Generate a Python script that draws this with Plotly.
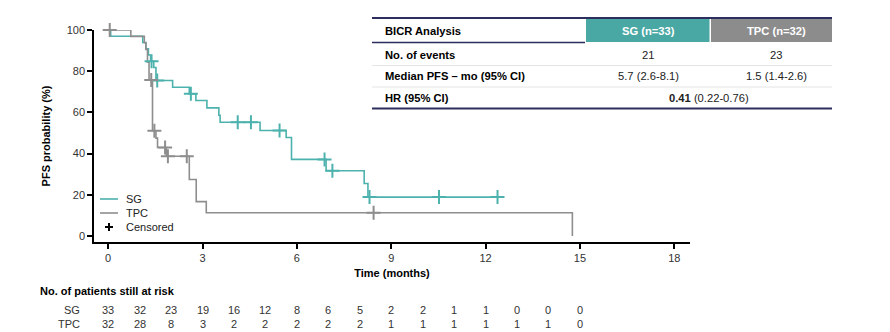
import plotly.graph_objects as go

# ---------------- data ----------------
sg_t = [0, 0.08, 1.10, 1.20, 1.28, 1.35, 1.45, 1.52, 2.05, 2.58, 2.79, 3.14, 3.52, 3.56, 4.83, 5.66, 5.83, 6.93, 8.14, 8.26, 12.38]
sg_s = [100, 97.0, 93.9, 90.9, 87.9, 84.8, 81.8, 75.5, 72.2, 69.0, 65.8, 62.2, 58.6, 55.2, 51.2, 47.8, 37.2, 31.7, 25.5, 18.9, 18.9]
sg_cens_t = [1.38, 1.56, 2.63, 4.12, 4.54, 5.45, 6.88, 7.13, 8.31, 10.52, 12.38]
sg_cens_s = [84.8, 75.5, 69.0, 55.2, 55.2, 51.2, 37.2, 31.7, 18.9, 18.9, 18.9]

tpc_t = [0, 0.72, 1.15, 1.20, 1.25, 1.30, 1.41, 1.52, 1.57, 1.85, 2.58, 2.80, 3.12, 14.76]
tpc_s = [100, 96.9, 93.8, 90.6, 84.4, 75.7, 51.1, 47.5, 43.0, 38.7, 27.4, 16.7, 11.3, 0]
tpc_cens_t = [0.05, 1.37, 1.47, 1.81, 1.90, 2.50, 8.44]
tpc_cens_s = [100, 75.7, 51.1, 43.0, 38.7, 38.7, 11.3]

risk_times = list(range(16))
sg_risk = [33, 32, 23, 19, 16, 12, 8, 6, 5, 2, 2, 1, 1, 0, 0, 0]
tpc_risk = [32, 28, 8, 3, 2, 2, 2, 2, 2, 1, 1, 1, 1, 1, 1, 0]

x_ticks = [0, 3, 6, 9, 12, 15, 18]
y_ticks = [0, 20, 40, 60, 80, 100]

legend_labels = ["SG", "TPC", "Censored"]

table_header = ["BICR Analysis", "SG (n=33)", "TPC (n=32)"]
row_labels = ["No. of events", "Median PFS – mo (95% CI)", "HR (95% CI)"]
sg_col = ["21", "5.7 (2.6-8.1)"]
tpc_col = ["23", "1.5 (1.4-2.6)"]
hr_bold = "0.41"
hr_ci = "(0.22-0.76)"

# ---------------- style ----------------
TEAL = "#4DB2AD"
TEAL_HDR = "#4AA8A4"
GRAY = "#8E8E8E"
GRAY_HDR = "#8C8C8C"
NAVY = "#2C2E5E"
FONT = "Liberation Sans, Arial, sans-serif"

W, H = 890, 332
ML, MR, MT, MB = 94, 200, 30, 90
PW, PH = W - ML - MR, H - MT - MB


def xp(px):
    return (px - ML) / PW


def yp(py):
    return (MT + PH - py) / PH


fig = go.Figure()

fig.add_trace(go.Scatter(x=sg_t, y=sg_s, mode="lines", line=dict(color=TEAL, width=1.6, shape="hv"),
                         name="SG", cliponaxis=False, showlegend=False))
fig.add_trace(go.Scatter(x=tpc_t, y=tpc_s, mode="lines", line=dict(color=GRAY, width=1.6, shape="hv"),
                         name="TPC", cliponaxis=False, showlegend=False))
fig.add_trace(go.Scatter(x=sg_cens_t, y=sg_cens_s, mode="markers", showlegend=False, cliponaxis=False,
                         marker=dict(symbol="cross-thin", size=10, line=dict(color=TEAL, width=2))))
fig.add_trace(go.Scatter(x=tpc_cens_t, y=tpc_cens_s, mode="markers", showlegend=False, cliponaxis=False,
                         marker=dict(symbol="cross-thin", size=10, line=dict(color=GRAY, width=2))))

shapes = []
annotations = []

# ---------------- legend (drawn) ----------------
LEG_Y = [199, 213, 227]
for col, yy in ((TEAL, LEG_Y[0]), (GRAY, LEG_Y[1])):
    shapes.append(dict(type="line", xref="paper", yref="paper", x0=xp(100), x1=xp(118), y0=yp(yy), y1=yp(yy),
                       line=dict(color=col, width=1.6)))
shapes.append(dict(type="line", xref="paper", yref="paper", x0=xp(105), x1=xp(113), y0=yp(LEG_Y[2]),
                   y1=yp(LEG_Y[2]), line=dict(color="black", width=2)))
shapes.append(dict(type="line", xref="paper", yref="paper", x0=xp(109), x1=xp(109), y0=yp(LEG_Y[2] - 4),
                   y1=yp(LEG_Y[2] + 4), line=dict(color="black", width=2)))
for lab, yy in zip(legend_labels, LEG_Y):
    annotations.append(dict(text=lab, xref="paper", yref="paper", x=xp(124), y=yp(yy), xanchor="left",
                            yanchor="middle", showarrow=False, font=dict(family=FONT, size=11, color="#222")))

# ---------------- summary table ----------------
TL, TR = 372, 832
C1L, C1R, C2L = 586, 709.5, 711
CX1, CX2 = 648, 776
HT, HB = 19, 42
ROW_Y = [55, 76, 98]

shapes.append(dict(type="rect", xref="paper", yref="paper", x0=xp(C1L), x1=xp(C1R), y0=yp(HB), y1=yp(HT),
                   fillcolor=TEAL_HDR, line=dict(width=0), layer="below"))
shapes.append(dict(type="rect", xref="paper", yref="paper", x0=xp(C2L), x1=xp(TR), y0=yp(HB), y1=yp(HT),
                   fillcolor=GRAY_HDR, line=dict(width=0), layer="below"))
for yy in (65.5, 87):
    shapes.append(dict(type="line", xref="paper", yref="paper", x0=xp(TL), x1=xp(TR), y0=yp(yy), y1=yp(yy),
                       line=dict(color="#E4E4E4", width=1)))
shapes.append(dict(type="line", xref="paper", yref="paper", x0=xp(TL), x1=xp(TR), y0=yp(18), y1=yp(18),
                   line=dict(color=NAVY, width=2)))
shapes.append(dict(type="line", xref="paper", yref="paper", x0=xp(TL), x1=xp(C1L - 1), y0=yp(42.5), y1=yp(42.5),
                   line=dict(color=NAVY, width=1.5)))
shapes.append(dict(type="line", xref="paper", yref="paper", x0=xp(TL), x1=xp(TR), y0=yp(108.5), y1=yp(108.5),
                   line=dict(color=NAVY, width=2)))

TF = 11.2


def ann(text, x, y, anchor="center", color="black", bold=False, size=TF):
    annotations.append(dict(text=f"<b>{text}</b>" if bold else text, xref="paper", yref="paper",
                            x=xp(x), y=yp(y), xanchor=anchor, yanchor="middle", showarrow=False,
                            font=dict(family=FONT, size=size, color=color)))


ann(table_header[0], 383, (HT + HB) / 2, anchor="left", bold=True)
ann(table_header[1], CX1, (HT + HB) / 2, color="white", bold=True)
ann(table_header[2], CX2, (HT + HB) / 2, color="white", bold=True)
for i, lab in enumerate(row_labels):
    ann(lab, 383, ROW_Y[i], anchor="left", bold=True)
for i in range(2):
    ann(sg_col[i], CX1, ROW_Y[i], color="#222")
    ann(tpc_col[i], CX2, ROW_Y[i], color="#222")
ann(f"<b>{hr_bold}</b> {hr_ci}", 709, ROW_Y[2], color="#222")

# ---------------- at-risk table ----------------
annotations.append(dict(text="<b>No. of patients still at risk</b>", xref="paper", yref="paper",
                        x=xp(38), y=yp(291), xanchor="left", yanchor="middle", showarrow=False,
                        font=dict(family=FONT, size=11, color="black")))
for lab, yy in (("SG", 310), ("TPC", 324)):
    annotations.append(dict(text=lab, xref="paper", yref="paper", x=xp(82), y=yp(yy), xanchor="right",
                            yanchor="middle", showarrow=False, font=dict(family=FONT, size=11, color="#333")))
for t, a, b in zip(risk_times, sg_risk, tpc_risk):
    annotations.append(dict(text=str(a), xref="x", yref="paper", x=t, y=yp(310), xanchor="center",
                            yanchor="middle", showarrow=False, font=dict(family=FONT, size=11, color="#333")))
    annotations.append(dict(text=str(b), xref="x", yref="paper", x=t, y=yp(324), xanchor="center",
                            yanchor="middle", showarrow=False, font=dict(family=FONT, size=11, color="#333")))

fig.update_layout(
    width=W, height=H, margin=dict(l=ML, r=MR, t=MT, b=MB),
    paper_bgcolor="white", plot_bgcolor="white",
    font=dict(family=FONT, size=11, color="#333"),
    shapes=shapes, annotations=annotations,
    showlegend=False,
)
fig.update_xaxes(range=[-0.45, 18.5], tickvals=x_ticks, showgrid=False, zeroline=False,
                 showline=True, linecolor="black", linewidth=1.5, ticks="outside", ticklen=5,
                 tickcolor="black", tickwidth=1.5, tickfont=dict(size=11, color="#333"),
                 title=dict(text="<b>Time (months)</b>", font=dict(size=11, color="black"), standoff=6))
fig.update_yaxes(range=[-2.9, 100], tickvals=y_ticks, showgrid=False, zeroline=False,
                 showline=True, linecolor="black", linewidth=1.5, ticks="outside", ticklen=5,
                 tickcolor="black", tickwidth=1.5, tickfont=dict(size=11, color="#333"),
                 title=dict(text="<b>PFS probability (%)</b>", font=dict(size=11, color="black"), standoff=14))

fig.write_html("out.html")
